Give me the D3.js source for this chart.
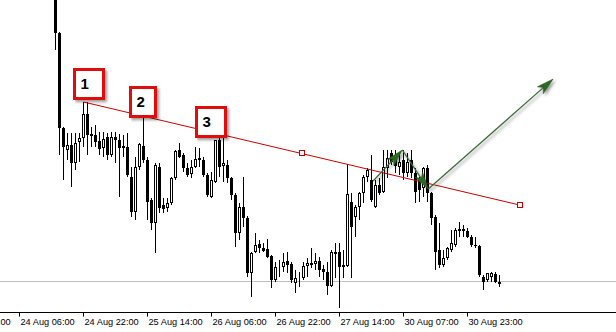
<!DOCTYPE html>
<html>
<head>
<meta charset="utf-8">
<script src="https://cdnjs.cloudflare.com/ajax/libs/d3/7.8.5/d3.min.js"></script>
<style>
  html, body { margin: 0; padding: 0; background: #fff; }
  svg { display: block; }
</style>
</head>
<body>
<div id="chart"></div>
<script>
// hourly bars, index 0 = 24 Aug 15:00
var opens = [
  1.2945, 1.2867, 1.2772, 1.2750, 1.2755, 1.2737, 1.2758, 1.2762, 1.2786, 1.2766,
  1.2765, 1.2759, 1.2752, 1.2763, 1.2745, 1.2763, 1.2760, 1.2752, 1.2753, 1.2723,
  1.2688, 1.2733, 1.2754, 1.2740, 1.2700, 1.2677, 1.2733, 1.2695, 1.2692, 1.2697,
  1.2722, 1.2750, 1.2745, 1.2732, 1.2726, 1.2733, 1.2740, 1.2740, 1.2725, 1.2703,
  1.2718, 1.2760, 1.2734, 1.2735, 1.2722, 1.2705, 1.2667, 1.2693, 1.2682, 1.2627,
  1.2648, 1.2656, 1.2652, 1.2651, 1.2644, 1.2620, 1.2632, 1.2633, 1.2639, 1.2636,
  1.2617, 1.2621, 1.2622, 1.2634, 1.2637, 1.2636, 1.2639, 1.2631, 1.2628, 1.2614,
  1.2648, 1.2648, 1.2635, 1.2634, 1.2698, 1.2683, 1.2693, 1.2707, 1.2723, 1.2720,
  1.2693, 1.2715, 1.2708, 1.2732, 1.2747, 1.2742, 1.2733, 1.2740, 1.2727, 1.2740,
  1.2727, 1.2720, 1.2712, 1.2732, 1.2707, 1.2683, 1.2650, 1.2635, 1.2642, 1.2650,
  1.2655, 1.2669, 1.2671, 1.2669, 1.2663, 1.2655, 1.2654, 1.2623, 1.2620, 1.2623,
  1.2626, 1.2616
];
var highs = [
  1.2950, 1.2868, 1.2773, 1.2767, 1.2767, 1.2767, 1.2767, 1.2798, 1.2798, 1.2773,
  1.2775, 1.2768, 1.2768, 1.2767, 1.2768, 1.2768, 1.2766, 1.2765, 1.2767, 1.2733,
  1.2743, 1.2757, 1.2782, 1.2743, 1.2702, 1.2737, 1.2737, 1.2702, 1.2702, 1.2723,
  1.2750, 1.2757, 1.2747, 1.2737, 1.2740, 1.2753, 1.2752, 1.2743, 1.2727, 1.2728,
  1.2760, 1.2762, 1.2762, 1.2740, 1.2723, 1.2707, 1.2697, 1.2723, 1.2684, 1.2648,
  1.2667, 1.2660, 1.2657, 1.2661, 1.2645, 1.2638, 1.2640, 1.2647, 1.2648, 1.2638,
  1.2630, 1.2628, 1.2638, 1.2642, 1.2652, 1.2647, 1.2643, 1.2635, 1.2638, 1.2650,
  1.2657, 1.2657, 1.2650, 1.2736, 1.2707, 1.2695, 1.2708, 1.2725, 1.2732, 1.2745,
  1.2720, 1.2722, 1.2750, 1.2750, 1.2750, 1.2750, 1.2747, 1.2750, 1.2747, 1.2750,
  1.2732, 1.2723, 1.2733, 1.2735, 1.2708, 1.2685, 1.2677, 1.2650, 1.2653, 1.2670,
  1.2672, 1.2678, 1.2675, 1.2672, 1.2665, 1.2663, 1.2655, 1.2625, 1.2627, 1.2628,
  1.2628, 1.2625
];
var lows = [
  1.2850, 1.2745, 1.2720, 1.2740, 1.2713, 1.2730, 1.2738, 1.2753, 1.2745, 1.2753,
  1.2753, 1.2745, 1.2743, 1.2740, 1.2743, 1.2737, 1.2703, 1.2743, 1.2723, 1.2683,
  1.2680, 1.2730, 1.2737, 1.2680, 1.2670, 1.2647, 1.2687, 1.2687, 1.2688, 1.2695,
  1.2720, 1.2742, 1.2728, 1.2723, 1.2722, 1.2732, 1.2733, 1.2723, 1.2703, 1.2702,
  1.2717, 1.2723, 1.2718, 1.2717, 1.2700, 1.2653, 1.2660, 1.2673, 1.2623, 1.2603,
  1.2647, 1.2647, 1.2648, 1.2642, 1.2612, 1.2618, 1.2623, 1.2628, 1.2627, 1.2617,
  1.2607, 1.2613, 1.2620, 1.2623, 1.2632, 1.2630, 1.2623, 1.2620, 1.2605, 1.2613,
  1.2622, 1.2592, 1.2622, 1.2633, 1.2622, 1.2663, 1.2680, 1.2697, 1.2718, 1.2698,
  1.2692, 1.2705, 1.2707, 1.2722, 1.2735, 1.2727, 1.2725, 1.2720, 1.2723, 1.2722,
  1.2697, 1.2698, 1.2703, 1.2698, 1.2675, 1.2630, 1.2632, 1.2633, 1.2640, 1.2648,
  1.2653, 1.2663, 1.2663, 1.2662, 1.2653, 1.2652, 1.2623, 1.2610, 1.2618, 1.2618,
  1.2617, 1.2613
];
var closes = [
  1.2867, 1.2772, 1.2753, 1.2755, 1.2737, 1.2757, 1.2762, 1.2786, 1.2765, 1.2764,
  1.2758, 1.2751, 1.2761, 1.2745, 1.2763, 1.2760, 1.2752, 1.2754, 1.2725, 1.2688,
  1.2733, 1.2756, 1.2740, 1.2698, 1.2677, 1.2735, 1.2692, 1.2691, 1.2697, 1.2722,
  1.2749, 1.2743, 1.2732, 1.2725, 1.2733, 1.2741, 1.2742, 1.2725, 1.2705, 1.2720,
  1.2760, 1.2733, 1.2737, 1.2722, 1.2705, 1.2667, 1.2693, 1.2682, 1.2627, 1.2647,
  1.2655, 1.2652, 1.2649, 1.2643, 1.2620, 1.2633, 1.2633, 1.2638, 1.2635, 1.2620,
  1.2622, 1.2622, 1.2634, 1.2637, 1.2635, 1.2639, 1.2630, 1.2628, 1.2614, 1.2648,
  1.2646, 1.2633, 1.2633, 1.2706, 1.2673, 1.2693, 1.2707, 1.2723, 1.2730, 1.2700,
  1.2715, 1.2707, 1.2733, 1.2742, 1.2738, 1.2734, 1.2738, 1.2727, 1.2738, 1.2727,
  1.2708, 1.2710, 1.2732, 1.2707, 1.2682, 1.2648, 1.2635, 1.2642, 1.2652, 1.2657,
  1.2670, 1.2671, 1.2669, 1.2663, 1.2655, 1.2654, 1.2625, 1.2618, 1.2627, 1.2627,
  1.2618, 1.2618
];

var tickBars = [-25, -9, 7, 23, 39, 55, 71, 87, 103];
var tickLabels = ["23 Aug 14:00", "24 Aug 06:00", "24 Aug 22:00", "25 Aug 14:00",
  "26 Aug 06:00", "26 Aug 22:00", "27 Aug 14:00", "30 Aug 07:00", "30 Aug 23:00"];

var levelPrice = 1.2619;

// trend line through the highs 1-2-3
var trendBars = [7, 116];
var trendPrices = [1.2798, 1.2695];

// numbered boxes: left edge bar, bottom price
var boxTexts = ["1", "2", "3"];
var boxBars = [4.6, 18.6, 34.9];
var boxPrices = [1.2800, 1.2782, 1.2762];

// green arrows
var arrowFromBars = [79.4, 86.7, 93.2];
var arrowFromPrices = [1.2719, 1.2750, 1.2711];
var arrowToBars = [86.7, 93.2, 124.4];
var arrowToPrices = [1.2750, 1.2711, 1.2821];

var width = 616, height = 332;
var boxW = [32, 28, 32], boxH = 32;

var svg = d3.select("#chart").append("svg")
    .attr("width", width)
    .attr("height", height);

var defs = svg.append("defs");
var shadow = defs.append("filter")
    .attr("id", "shadow")
    .attr("filterUnits", "userSpaceOnUse")
    .attr("x", 0).attr("y", 0)
    .attr("width", width).attr("height", height);
shadow.append("feGaussianBlur").attr("in", "SourceAlpha").attr("stdDeviation", 1.5);
shadow.append("feOffset").attr("dx", 2).attr("dy", 2);
shadow.append("feComponentTransfer").append("feFuncA").attr("type", "linear").attr("slope", 0.4);
var merge = shadow.append("feMerge");
merge.append("feMergeNode");
merge.append("feMergeNode").attr("in", "SourceGraphic");

svg.append("rect")
    .attr("width", width)
    .attr("height", height)
    .attr("fill", "#fff");

var x = d3.scaleLinear().domain([-13.875, 140.125]).range([0, width]);
var y = d3.scaleLinear().domain([1.2900, 1.2590]).range([0, 310]);

// horizontal level
svg.append("line")
    .attr("x1", 0).attr("x2", width)
    .attr("y1", Math.round(y(levelPrice)) + 0.5)
    .attr("y2", Math.round(y(levelPrice)) + 0.5)
    .attr("stroke", "#c0c0c0");

// candles
var bars = d3.range(opens.length);
var candle = svg.append("g").attr("class", "candles")
    .selectAll("g")
    .data(bars)
    .enter()
    .append("g");

candle.append("line")
    .attr("x1", function(i) { return x(i); })
    .attr("x2", function(i) { return x(i); })
    .attr("y1", function(i) { return Math.round(y(highs[i])); })
    .attr("y2", function(i) { return Math.round(y(lows[i])); })
    .attr("stroke", "#000");

candle.append("rect")
    .attr("x", function(i) { return closes[i] < opens[i] ? x(i) - 1.5 : x(i) - 1; })
    .attr("y", function(i) {
        var t = Math.round(y(Math.max(opens[i], closes[i])));
        return closes[i] < opens[i] ? t : t + 0.5;
    })
    .attr("width", function(i) { return closes[i] < opens[i] ? 3 : 2; })
    .attr("height", function(i) {
        var h = Math.round(y(Math.min(opens[i], closes[i]))) - Math.round(y(Math.max(opens[i], closes[i])));
        return closes[i] < opens[i] ? Math.max(1, h) : Math.max(0, h - 1);
    })
    .attr("fill", function(i) { return closes[i] < opens[i] ? "#000" : "#fff"; })
    .attr("stroke", function(i) { return closes[i] < opens[i] ? "none" : "#000"; });

// trend line with selection squares
var tx1 = x(trendBars[0]), ty1 = y(trendPrices[0]);
var tx2 = x(trendBars[1]), ty2 = y(trendPrices[1]);
svg.append("line")
    .attr("x1", tx1).attr("y1", ty1)
    .attr("x2", tx2).attr("y2", ty2)
    .attr("stroke", "#cc0000")
    .attr("stroke-width", 1);

svg.selectAll(".handle")
    .data([[(tx1 + tx2) / 2, (ty1 + ty2) / 2], [tx2, ty2]])
    .enter()
    .append("rect")
    .attr("class", "handle")
    .attr("x", function(d) { return Math.round(d[0]) - 2.5; })
    .attr("y", function(d) { return Math.round(d[1]) - 2.5; })
    .attr("width", 5)
    .attr("height", 5)
    .attr("fill", "#fff")
    .attr("stroke", "#cc0000");

// arrows
var arrows = svg.append("g").attr("filter", "url(#shadow)");
arrowFromBars.forEach(function(b, i) {
    var x1 = x(b), y1 = y(arrowFromPrices[i]);
    var x2 = x(arrowToBars[i]), y2 = y(arrowToPrices[i]);
    var len = Math.sqrt((x2 - x1) * (x2 - x1) + (y2 - y1) * (y2 - y1));
    var ux = (x2 - x1) / len, uy = (y2 - y1) / len;
    var nx = -uy, ny = ux;
    var L = 17, w = 4.5;
    arrows.append("line")
        .attr("x1", x1).attr("y1", y1)
        .attr("x2", x2 - ux * L * 0.7).attr("y2", y2 - uy * L * 0.7)
        .attr("stroke", "#3b6b3b")
        .attr("stroke-width", 1.3);
    var pts = [
        [x2, y2],
        [x2 - ux * L + nx * w, y2 - uy * L + ny * w],
        [x2 - ux * L * 0.75, y2 - uy * L * 0.75],
        [x2 - ux * L - nx * w, y2 - uy * L - ny * w]
    ];
    arrows.append("path")
        .attr("d", "M" + pts.map(function(p) { return p[0] + "," + p[1]; }).join("L") + "Z")
        .attr("fill", "#2c6a20")
        .attr("stroke", "#234f1a")
        .attr("stroke-width", 0.5);
});

// numbered boxes
var box = svg.selectAll(".box")
    .data(boxTexts)
    .enter()
    .append("g")
    .attr("class", "box")
    .attr("transform", function(d, i) {
        return "translate(" + Math.round(x(boxBars[i]) - 0.5) + "," + Math.round(y(boxPrices[i]) - boxH) + ")";
    });

box.append("rect")
    .attr("x", 1.5)
    .attr("y", 1.5)
    .attr("width", function(d, i) { return boxW[i] - 3; })
    .attr("height", boxH - 3)
    .attr("fill", "#fff")
    .attr("stroke", "#e01010")
    .attr("stroke-width", 3)
    .attr("filter", "url(#shadow)");

box.append("text")
    .attr("x", 7.5)
    .attr("y", 20.5)
    .attr("font-family", "Liberation Sans, Arial, sans-serif")
    .attr("font-size", 15)
    .attr("font-weight", "bold")
    .attr("fill", "#000")
    .text(function(d) { return d; });

// time axis
var xAxis = d3.axisBottom(x)
    .tickValues(tickBars)
    .tickFormat(function(d, i) { return tickLabels[i]; })
    .tickSizeInner(4)
    .tickSizeOuter(0)
    .offset(0);

var gx = svg.append("g")
    .attr("transform", "translate(0,312.5)")
    .call(xAxis);

gx.select(".domain").attr("stroke", "#000");
gx.selectAll(".tick line").attr("stroke", "#000");
gx.selectAll(".tick text")
    .attr("text-anchor", "start")
    .attr("x", 1)
    .attr("y", 6)
    .attr("fill", "#000")
    .attr("font-family", "Liberation Sans, Arial, sans-serif")
    .attr("font-size", 9.2);
</script>
</body>
</html>
